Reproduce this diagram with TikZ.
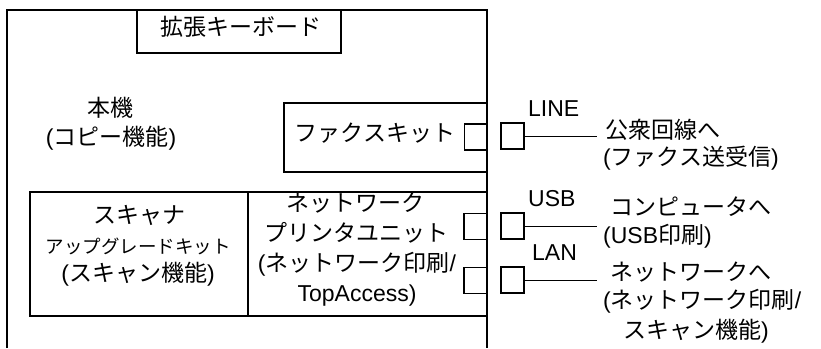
\documentclass[tikz,border=0pt]{standalone}
\usepackage{fontspec}
\setmainfont{Liberation Sans}
\newfontfamily\jp{Noto Sans CJK JP}
\begin{document}
\begin{tikzpicture}[x=1pt,y=-1pt,
  box/.style={draw,line width=1.6pt,inner sep=0pt},
  port/.style={draw,line width=1.2pt,minimum width=23pt,minimum height=26pt,inner sep=0pt},
  txt/.style={font=\fontsize{23}{27}\selectfont,inner sep=0pt,text height=0.88em,text depth=0.12em},
  small/.style={font=\fontsize{18.5}{22}\selectfont,inner sep=0pt,text height=0.88em,text depth=0.12em},
  wire/.style={line width=0.9pt}]
\useasboundingbox (0,0) rectangle (821,348);
% main unit (open at bottom)
\draw[line width=1.6pt] (7,348) -- (7,10) -- (487,10) -- (487,348);
% boxes
\node[box,minimum width=204pt,minimum height=43pt] (kb) at (239,31.5) {};
\node[txt] (kbt) at (241,32) {\jp 拡張キーボード};
\node[txt] (main1) at (110,113) {\jp 本機};
\node[txt] (main2) at (111,142) {(\jp コピー機能\rmfamily)};
\node[box,minimum width=203pt,minimum height=69pt] (fax) at (385.5,137.5) {};
\node[txt] (faxt) at (375,138) {\jp ファクスキット};
\node[box,minimum width=218pt,minimum height=124pt] (scan) at (139,254) {};
\node[txt] (sc1) at (139,220) {\jp スキャナ};
\node[small] (sc2) at (138,250) {\jp アップグレードキット};
\node[txt] (sc3) at (138,278) {(\jp スキャン機能\rmfamily)};
\node[box,minimum width=239pt,minimum height=124pt] (np) at (367.5,254) {};
\node[txt] (np1) at (355,208) {\jp ネットワーク};
\node[txt] (np2) at (356,238) {\jp プリンタユニット};
\node[txt] (np3) at (357,268) {(\jp ネットワーク印刷\rmfamily /};
\node[txt] (np4) at (357,298) {TopAccess)};
% inner ports
\node[port] (pf) at (476,137) {};
\node[port] (pu) at (475.5,226.5) {};
\node[port] (pl) at (475.5,280.5) {};
% outer ports
\node[port] (xl) at (512.5,136) {};
\node[port] (xu) at (512.5,226) {};
\node[port] (xn) at (512.5,280) {};
\coordinate (el) at (597,136);
\coordinate (eu) at (597,226);
\coordinate (en) at (597,280);
\draw[wire] (xl.east) -- (el);
\draw[wire] (xu.east) -- (eu);
\draw[wire] (xn.east) -- (en);
% labels
\node[txt,anchor=west] (ll) at (528,113) {LINE};
\node[txt,anchor=west] (lu) at (528,203) {USB};
\node[txt,anchor=west] (ln) at (532,257) {LAN};
\node[txt,anchor=west] (d1) at (605,135) {\jp 公衆回線へ};
\node[txt,anchor=west] (d2) at (603,162) {(\jp ファクス送受信\rmfamily)};
\node[txt,anchor=west] (d3) at (610,212) {\jp コンピュータへ};
\node[txt,anchor=west] (d4) at (603,240) {(USB\jp 印刷\rmfamily)};
\node[txt,anchor=west] (d5) at (610,277) {\jp ネットワークへ};
\node[txt,anchor=west] (d6) at (603,305) {(\jp ネットワーク印刷\rmfamily /};
\node[txt,anchor=west] (d7) at (623,335) {\jp スキャン機能\rmfamily)};
\end{tikzpicture}
\end{document}
